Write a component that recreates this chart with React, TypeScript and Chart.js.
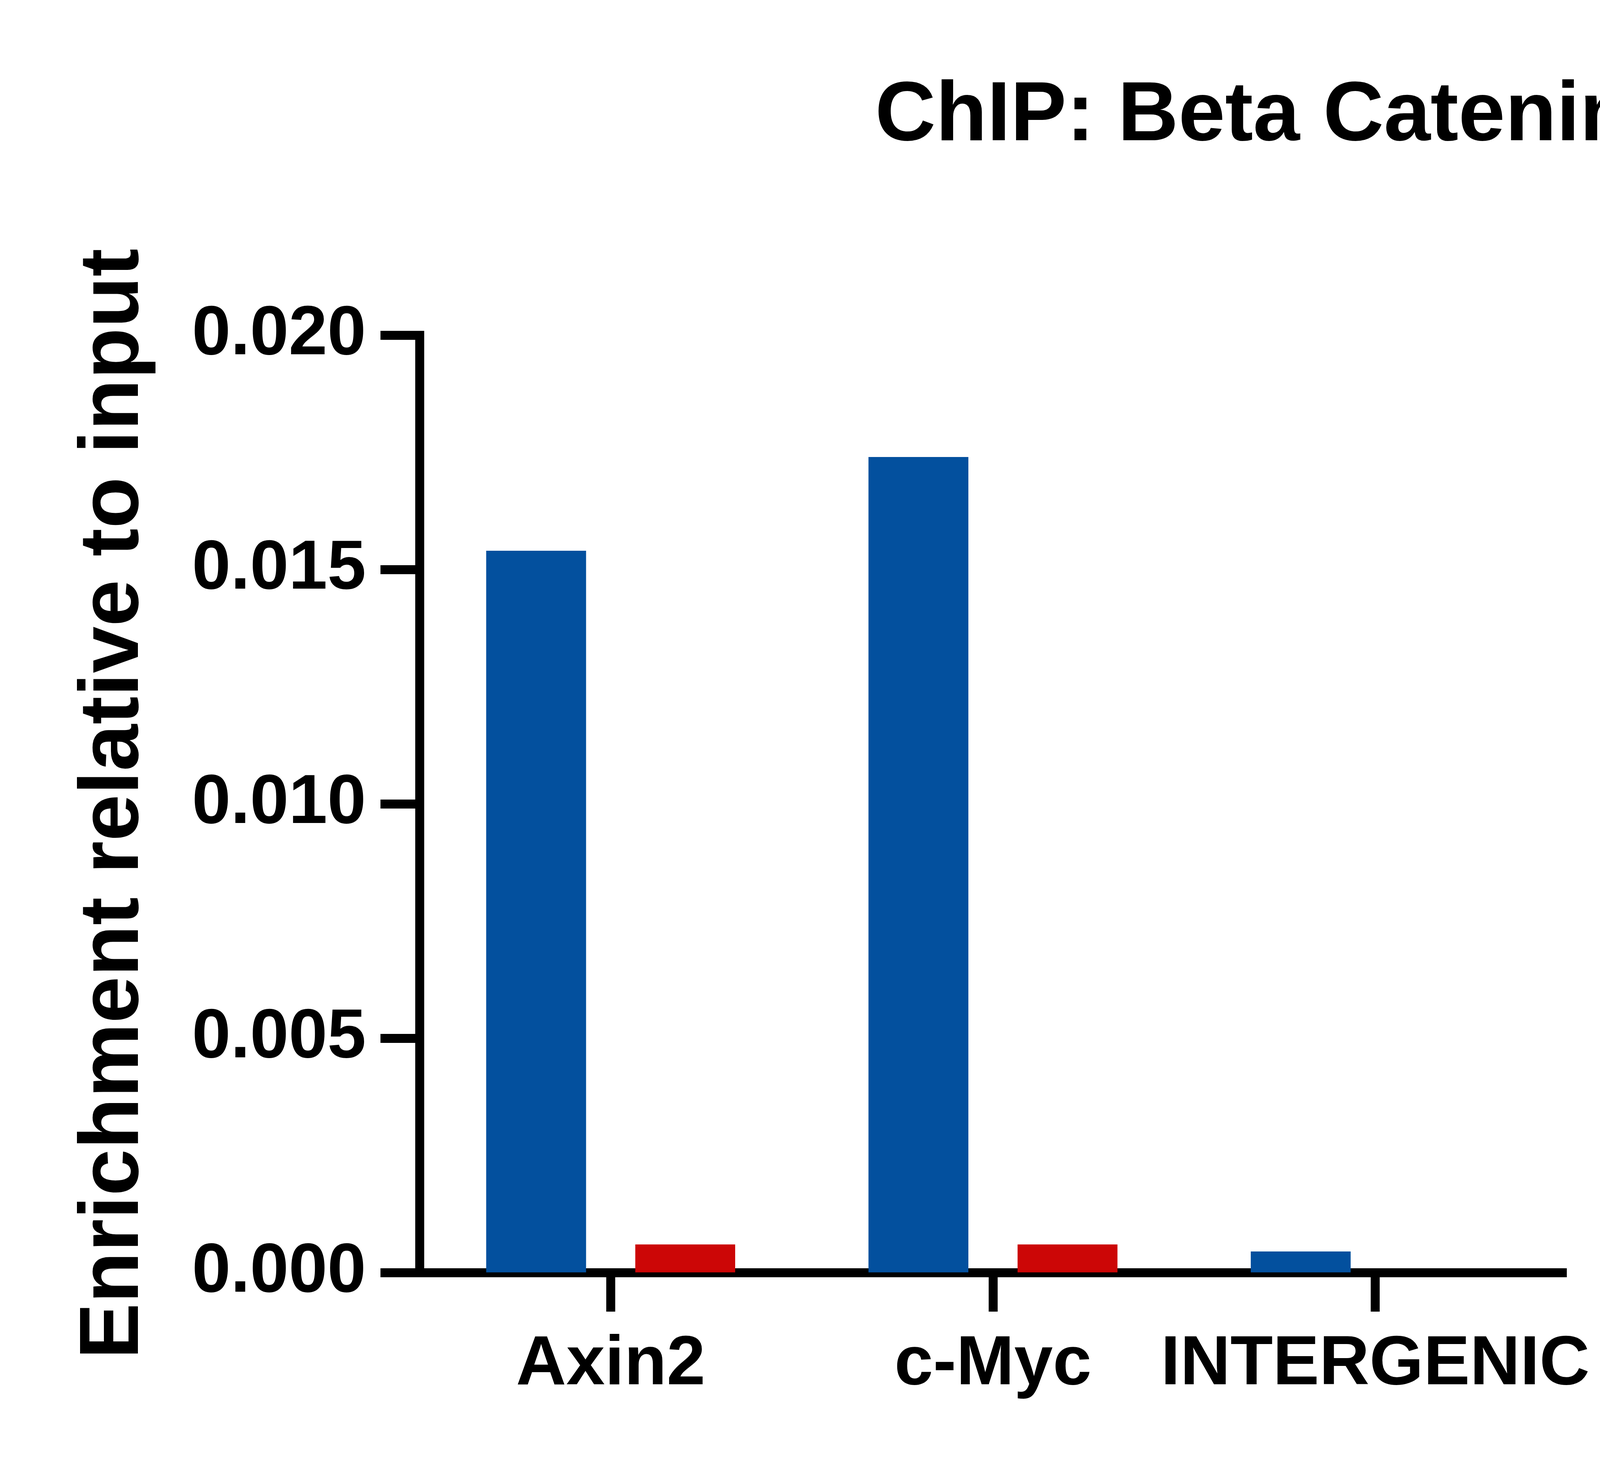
import { useEffect, useRef } from "react";
import { Chart, registerables } from "chart.js";

Chart.register(...registerables);

const categories = ["Axin2", "c-Myc", "INTERGENIC"];
const betaCatenin = [0.0154, 0.0174, 0.00045];
const rabbitIgG = [0.0006, 0.0006, 0];
const seriesLabels = ["Beta Catenin (80488-1-RR)", "Normal Rabbit IgG (98136-1-RR)"];
const seriesColors = ["#03509E", "#CC0606"];
const yMin = 0;
const yMax = 0.02;
const yStep = 0.005;

const FONT = "'Liberation Sans', Arial, sans-serif";

// legend sits at a fixed width so the items line up with the picture
const legendWidth = {
  id: "legendWidth",
  beforeInit(chart: any) {
    const legend = chart.legend;
    if (!legend) return;
    const fit = legend.fit;
    legend.fit = function () {
      fit.call(this);
      this.width = 3629;
    };
  },
};

const App = () => {
  const chartRef = useRef<HTMLCanvasElement>(null);
  const chartInstance = useRef<Chart | null>(null);

  useEffect(() => {
    document.body.style.margin = "0";
    const canvas = chartRef.current;
    if (!canvas) return;
    const ctx = canvas.getContext("2d");
    if (!ctx) return;

    if (chartInstance.current) chartInstance.current.destroy();

    chartInstance.current = new Chart(ctx, {
      type: "bar",
      data: {
        labels: categories,
        datasets: [
          {
            label: seriesLabels[0],
            data: betaCatenin,
            backgroundColor: seriesColors[0],
            borderWidth: 0,
          },
          {
            label: seriesLabels[1],
            data: rabbitIgG,
            backgroundColor: seriesColors[1],
            borderWidth: 0,
          },
        ],
      },
      plugins: [legendWidth],
      options: {
        animation: false,
        responsive: true,
        maintainAspectRatio: false,
        datasets: { bar: { categoryPercentage: 0.78, barPercentage: 0.67 } },
        layout: { padding: { left: 80, top: 0, right: 0, bottom: 0 } },
        plugins: {
          title: {
            display: true,
            text: "ChIP: Beta Catenin (80488-1-RR)",
            color: "#000",
            font: { family: FONT, size: 215, weight: "bold" },
            padding: { top: 171, bottom: 429 },
          },
          legend: {
            position: "right",
            align: "start",
            // empty title only pushes the items down to where they sit in the picture
            title: { display: true, text: "", font: { size: 10 }, padding: { top: 786, bottom: 0 } },
            labels: {
              boxWidth: 256,
              boxHeight: 128,
              padding: 120,
              color: "#000",
              font: { family: FONT, size: 200 },
            },
          },
          tooltip: { enabled: false },
        },
        scales: {
          x: {
            z: 1,
            afterFit: (s: any) => {
              s.height = 485;
            },
            grid: {
              offset: false,
              drawOnChartArea: false,
              drawTicks: true,
              tickLength: 100,
              tickWidth: 23,
              tickColor: "#000",
              color: "#000",
            },
            border: { display: true, color: "#000", width: 23 },
            ticks: {
              color: "#000",
              padding: 30,
              maxRotation: 0,
              autoSkip: false,
              font: { family: FONT, size: 178, weight: "bold" },
            },
          },
          y: {
            z: 1,
            min: yMin,
            max: yMax,
            afterFit: (s: any) => {
              s.width = 994;
            },
            grid: {
              drawOnChartArea: false,
              drawTicks: true,
              tickLength: 100,
              tickWidth: 23,
              tickColor: "#000",
              color: "#000",
            },
            border: { display: true, color: "#000", width: 23 },
            ticks: {
              stepSize: yStep,
              color: "#000",
              padding: 37,
              font: { family: FONT, size: 178, weight: "bold" },
              callback: (v: any) => Number(v).toFixed(3),
            },
            title: {
              display: true,
              text: "Enrichment relative to input",
              color: "#000",
              font: { family: FONT, size: 215, weight: "bold" },
              padding: { top: 85, bottom: 0 },
            },
          },
          // blank spacer between the plot and the legend
          gap: {
            type: "linear",
            position: "right",
            display: true,
            grid: { display: false, drawTicks: false },
            border: { display: false },
            ticks: { display: false },
            afterFit: (s: any) => {
              s.width = 71;
            },
          },
        },
      } as any,
    });

    return () => {
      if (chartInstance.current) {
        chartInstance.current.destroy();
        chartInstance.current = null;
      }
    };
  }, []);

  return (
    <div style={{ width: 7710, height: 3743, position: "relative" }}>
      <canvas ref={chartRef} />
    </div>
  );
};

export default App;
